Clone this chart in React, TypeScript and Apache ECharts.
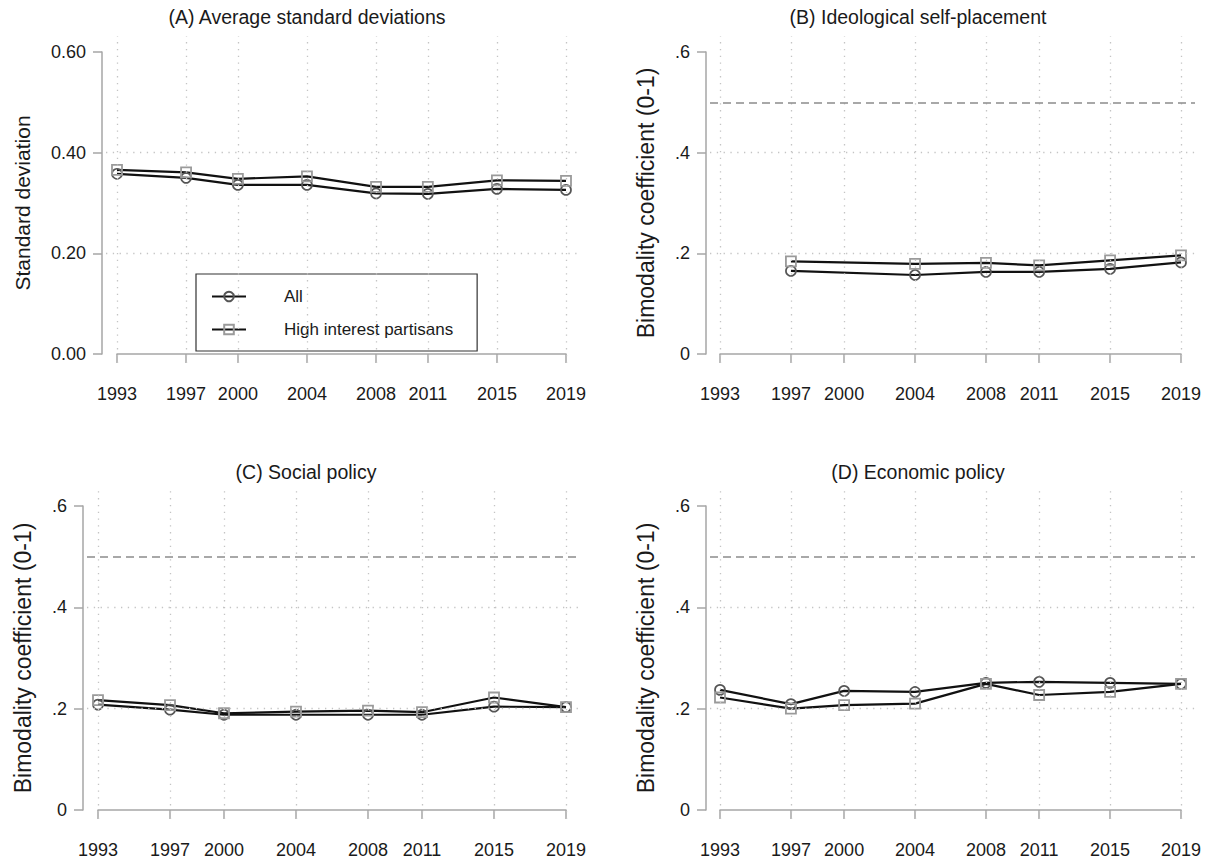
import React, { useEffect, useRef } from "react";
import * as echarts from "echarts";

// ---------- data ----------
const years = [1993, 1997, 2000, 2004, 2008, 2011, 2015, 2019];
const yearsB = [1997, 2004, 2008, 2011, 2015, 2019];

const allA = [0.358, 0.35, 0.336, 0.336, 0.319, 0.318, 0.328, 0.326];
const hipA = [0.366, 0.361, 0.348, 0.353, 0.332, 0.332, 0.345, 0.344];
const allB = [0.165, 0.157, 0.163, 0.163, 0.169, 0.182];
const hipB = [0.184, 0.179, 0.181, 0.176, 0.186, 0.196];
const allC = [0.208, 0.198, 0.188, 0.188, 0.188, 0.188, 0.204, 0.203];
const hipC = [0.217, 0.207, 0.191, 0.194, 0.196, 0.193, 0.222, 0.203];
const allD = [0.237, 0.209, 0.235, 0.233, 0.251, 0.253, 0.251, 0.249];
const hipD = [0.222, 0.2, 0.207, 0.21, 0.249, 0.227, 0.233, 0.249];

const panelTitles = [
  "(A) Average standard deviations",
  "(B) Ideological self-placement",
  "(C) Social policy",
  "(D) Economic policy",
];
const yNames = [
  "Standard deviation",
  "Bimodality coefficient (0-1)",
  "Bimodality coefficient (0-1)",
  "Bimodality coefficient (0-1)",
];
const seriesNames = ["All", "High interest partisans"];
const yGridValues = [0.2, 0.4];
const refValue = 0.5;

// ---------- layout ----------
const W = 1212;
const H = 861;
const FONT = "'Liberation Sans', Arial, Helvetica, sans-serif";
const TXT = "#1a1a1a";
const AXIS = "#a6a6a6";

type Geo = {
  ax: number; x0: number; x1: number; y6: number; y0: number; xa: number;
  tx: number; ty: number; nameGap: number; nameSize: number;
};
const geos: Geo[] = [
  { ax: 102, x0: 117, x1: 566, y6: 52, y0: 354, xa: 370, tx: 307, ty: 18, nameGap: 69, nameSize: 21 },
  { ax: 706, x0: 720, x1: 1181, y6: 52, y0: 354, xa: 370, tx: 918, ty: 18, nameGap: 49, nameSize: 23 },
  { ax: 83, x0: 98, x1: 566, y6: 506, y0: 810, xa: 826, tx: 306, ty: 473, nameGap: 49, nameSize: 23 },
  { ax: 706, x0: 720, x1: 1181, y6: 506, y0: 810, xa: 826, tx: 918, ty: 473, nameGap: 49, nameSize: 23 },
];

const panelData = [
  { xs: years, all: allA, hip: hipA, ref: false, fmt: (v: number) => v.toFixed(2) },
  { xs: yearsB, all: allB, hip: hipB, ref: true, fmt: null },
  { xs: years, all: allC, hip: hipC, ref: true, fmt: null },
  { xs: years, all: allD, hip: hipD, ref: true, fmt: null },
];

const shortFmt = (v: number) => (Math.abs(v) < 1e-9 ? "0" : v.toFixed(1).replace(/^0/, ""));

function buildOption() {
  const grid: any[] = [];
  const xAxis: any[] = [];
  const yAxis: any[] = [];
  const series: any[] = [];

  geos.forEach((g, i) => {
    const p = panelData[i];
    const pd = p.xs;
    // inner grid (exact data range) — axes + data
    const innerIdx = grid.length;
    grid.push({
      left: g.x0, top: g.y6, width: g.x1 - g.x0, height: g.y0 - g.y6,
      containLabel: false, outerBoundsMode: "none",
    });
    xAxis.push({
      type: "value", gridIndex: innerIdx, min: 1993, max: 2019,
      offset: g.xa - g.y0,
      axisLine: { show: true, lineStyle: { color: AXIS, width: 1.5 } },
      axisTick: { show: true, length: 9, lineStyle: { color: AXIS, width: 1.5 }, customValues: years },
      axisLabel: {
        show: true, customValues: years, margin: 15, color: TXT, fontSize: 18, fontFamily: FONT,
        formatter: (v: number) => String(v),
      },
      splitLine: { show: false },
    });
    yAxis.push({
      type: "value", gridIndex: innerIdx, min: 0, max: 0.6, interval: 0.2,
      offset: g.x0 - g.ax,
      name: yNames[i], nameLocation: "middle", nameGap: g.nameGap,
      nameTextStyle: { color: TXT, fontSize: g.nameSize, fontFamily: FONT },
      axisLine: { show: true, lineStyle: { color: AXIS, width: 1.5 } },
      axisTick: { show: true, length: 9, lineStyle: { color: AXIS, width: 1.5 } },
      axisLabel: {
        show: true, margin: 16, color: TXT, fontSize: 18, fontFamily: FONT,
        formatter: p.fmt ? p.fmt : shortFmt,
      },
      splitLine: { show: false },
    });

    // outer grid (plot region) — grid lines and reference line
    const oL = g.ax + 4;
    const oR = g.x1 + 14;
    const oT = g.y6 - 16;
    const oB = g.y0 + 9;
    const ppx = (g.x1 - g.x0) / 26;
    const ppv = (g.y0 - g.y6) / 0.6;
    const xmin = 1993 - (g.x0 - oL) / ppx;
    const xmax = 2019 + (oR - g.x1) / ppx;
    const ymin = -(oB - g.y0) / ppv;
    const ymax = 0.6 + (g.y6 - oT) / ppv;
    const outerIdx = grid.length;
    grid.push({
      left: oL, top: oT, width: oR - oL, height: oB - oT,
      containLabel: false, outerBoundsMode: "none",
    });
    xAxis.push({ type: "value", gridIndex: outerIdx, min: xmin, max: xmax, show: false });
    yAxis.push({ type: "value", gridIndex: outerIdx, min: ymin, max: ymax, show: false });

    const dotted = { color: "#c4c4c4", width: 1.3, type: [1.3, 5.5] };
    const mlData: any[] = [];
    years.forEach((y) => mlData.push({ xAxis: y, lineStyle: dotted }));
    yGridValues.forEach((v) => mlData.push({ yAxis: v, lineStyle: dotted }));
    if (p.ref) {
      mlData.push({ yAxis: refValue, lineStyle: { color: "#8c8c8c", width: 1.7, type: [8, 5] } });
    }
    series.push({
      type: "line",
      name: "_grid" + i,
      xAxisIndex: outerIdx, yAxisIndex: outerIdx,
      data: [[xmin, ymin]],
      showSymbol: false,
      lineStyle: { width: 0 },
      silent: true,
      z: 1,
      markLine: {
        silent: true, symbol: ["none", "none"], label: { show: false },
        emphasis: { disabled: true },
        data: mlData,
      },
    });

    // data series
    series.push({
      type: "line",
      name: seriesNames[0],
      xAxisIndex: innerIdx, yAxisIndex: innerIdx,
      data: pd.map((x, k) => [x, p.all[k]]),
      symbol: "circle", symbolSize: 10,
      itemStyle: { color: "rgba(255,255,255,0)", borderColor: "#555555", borderWidth: 1.7 },
      lineStyle: { color: "#111111", width: 2.2 },
      emphasis: { disabled: true },
      clip: false,
      z: 3,
    });
    series.push({
      type: "line",
      name: seriesNames[1],
      xAxisIndex: innerIdx, yAxisIndex: innerIdx,
      data: pd.map((x, k) => [x, p.hip[k]]),
      symbol: "rect", symbolSize: 10,
      itemStyle: { color: "rgba(255,255,255,0)", borderColor: "#9a9a9a", borderWidth: 1.8 },
      lineStyle: { color: "#111111", width: 2.2 },
      emphasis: { disabled: true },
      clip: false,
      z: 3,
    });
  });

  return {
    animation: false,
    backgroundColor: "#ffffff",
    textStyle: { fontFamily: FONT },
    title: geos.map((g, i) => ({
      text: panelTitles[i],
      left: g.tx,
      top: g.ty - 11,
      textAlign: "center",
      padding: 0,
      textStyle: { fontSize: 19.5, fontWeight: "normal", color: TXT, fontFamily: FONT },
    })),
    legend: {
      data: seriesNames,
      orient: "vertical",
      left: 196,
      top: 274,
      padding: [13, 24, 12, 15],
      backgroundColor: "#ffffff",
      borderColor: "#333333",
      borderWidth: 1.2,
      borderRadius: 0,
      itemWidth: 34,
      itemHeight: 12,
      itemGap: 14,
      selectedMode: false,
      textStyle: { fontSize: 17, color: TXT, fontFamily: FONT, padding: [0, 0, 0, 33], lineHeight: 19 },
    },
    grid,
    xAxis,
    yAxis,
    series,
  };
}

export default function App() {
  const ref = useRef<HTMLDivElement>(null);
  useEffect(() => {
    if (!ref.current) return;
    const chart = echarts.init(ref.current, undefined, { renderer: "svg", width: W, height: H });
    chart.setOption(buildOption() as any);
    return () => chart.dispose();
  }, []);
  return (
    <div
      ref={ref}
      style={{ position: "absolute", left: 0, top: 0, width: W, height: H, background: "#fff" }}
    />
  );
}
